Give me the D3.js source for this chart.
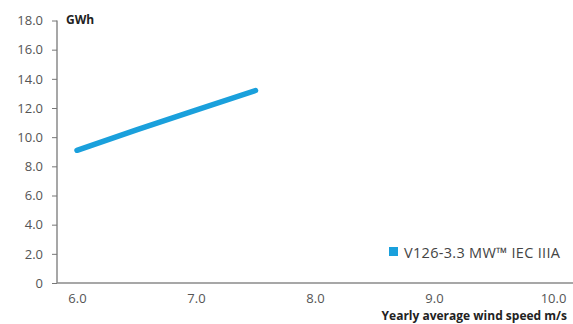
<!DOCTYPE html>
<html><head><meta charset="utf-8">
<script src="https://cdn.jsdelivr.net/npm/d3@7"></script>
<style>body{margin:0;background:#fff}svg{display:block}</style>
</head><body>
<script>
const windSpeeds = [6.0, 6.5, 7.0, 7.5];
const energyGWh = [9.1, 10.5, 11.85, 13.2];
const yTicks = [0, 2, 4, 6, 8, 10, 12, 14, 16, 18];
const xTicks = [6, 7, 8, 9, 10];
const seriesName = "V126-3.3 MW\u2122 IEC IIIA";
const yUnit = "GWh";
const xTitle = "Yearly average wind speed m/s";

const W = 573, H = 324;
const svg = d3.select("body").append("svg").attr("width", W).attr("height", H);
const font = "'Open Sans', sans-serif";
const x = d3.scaleLinear().domain([6, 10]).range([77, 553]);
const y = d3.scaleLinear().domain([0, 18]).range([283, 20.5]);

// y axis
const ya = svg.append("g").attr("transform", "translate(57,0)")
  .call(d3.axisLeft(y).tickValues(yTicks).tickSize(5).tickPadding(9)
    .tickFormat(d => d === 0 ? "0" : d3.format(".1f")(d)));
ya.select(".domain").attr("stroke", "#8a8a8a").attr("stroke-width", 1.5).attr("d", `M0,${y(18)}V${y(0)}`);
ya.selectAll(".tick line").attr("stroke", "#777");
ya.selectAll(".tick text").attr("fill", "#555").style("font-family", font).style("font-size", "13px");

// x axis
const xa = svg.append("g").attr("transform", "translate(0,283)")
  .call(d3.axisBottom(x).tickValues(xTicks).tickSize(0).tickPadding(11).tickFormat(d3.format(".1f")));
xa.select(".domain").attr("stroke", "#8a8a8a").attr("stroke-width", 1.5).attr("d", "M57,0H573");
xa.selectAll(".tick text").attr("fill", "#555").style("font-family", font).style("font-size", "13px");

svg.append("text").attr("x", 66).attr("y", 24).text(yUnit)
  .attr("fill", "#222").style("font-family", font).style("font-size", "12px").style("font-weight", "700");
svg.append("text").attr("x", 567).attr("y", 320).attr("text-anchor", "end").text(xTitle)
  .attr("fill", "#222").style("font-family", font).style("font-size", "12px").style("font-weight", "700");

const pts = windSpeeds.map((v, i) => [v, energyGWh[i]]);
svg.append("path").datum(pts)
  .attr("d", d3.line().x(d => x(d[0])).y(d => y(d[1])))
  .attr("fill", "none").attr("stroke", "#1aa0dc").attr("stroke-width", 5.5).attr("stroke-linecap", "round");

// legend
svg.append("rect").attr("x", 389).attr("y", 247).attr("width", 9).attr("height", 9).attr("fill", "#1aa0dc");
svg.append("text").attr("x", 404).attr("y", 257.5).text(seriesName)
  .attr("fill", "#444").style("font-family", font).style("font-size", "14.5px").style("letter-spacing", "0.3px");
</script>
</body></html>
